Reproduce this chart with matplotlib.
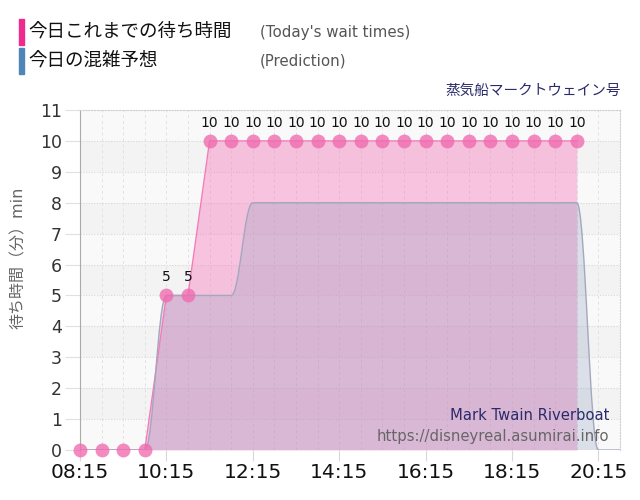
import matplotlib
matplotlib.use("Agg")
import matplotlib.pyplot as plt
from matplotlib.path import Path
from matplotlib.patches import PathPatch, Rectangle
import numpy as np

plt.rcParams['font.family'] = ['DejaVu Sans', 'Noto Sans CJK JP']

# ---------------- data ----------------
actual_times = ["08:15", "08:45", "09:15", "09:45", "10:15", "10:45", "11:15", "11:45",
                "12:15", "12:45", "13:15", "13:45", "14:15", "14:45", "15:15", "15:45",
                "16:15", "16:45", "17:15", "17:45", "18:15", "18:45", "19:15", "19:45"]
actual_wait = [0, 0, 0, 0, 5, 5, 10, 10,
               10, 10, 10, 10, 10, 10, 10, 10,
               10, 10, 10, 10, 10, 10, 10, 10]

pred_times = ["08:15", "08:45", "09:15", "09:45", "10:15", "10:45", "11:15", "11:45",
              "12:15", "12:45", "13:15", "13:45", "14:15", "14:45", "15:15", "15:45",
              "16:15", "16:45", "17:15", "17:45", "18:15", "18:45", "19:15", "19:45",
              "20:15", "20:45"]
pred_wait = [0, 0, 0, 0, 5, 5, 5, 5,
             8, 8, 8, 8, 8, 8, 8, 8,
             8, 8, 8, 8, 8, 8, 8, 8,
             0, 0]

x_tick_labels = ["08:15", "10:15", "12:15", "14:15", "16:15", "18:15", "20:15"]
y_ticks = list(range(0, 12))

title_jp = "蒸気船マークトウェイン号"
title_en = "Mark Twain Riverboat"
site = "https://disneyreal.asumirai.info"
legend_jp = ["今日これまでの待ち時間", "今日の混雑予想"]
legend_en = ["(Today's wait times)", "(Prediction)"]
ylabel = "待ち時間（分）min"


def to_h(s):
    h, m = s.split(":")
    return int(h) + int(m) / 60.0


ax_x = np.array([to_h(t) for t in actual_times])
ax_y = np.array(actual_wait, dtype=float)
px = np.array([to_h(t) for t in pred_times])
py = np.array(pred_wait, dtype=float)


def spline_path(xs, ys, sm=1.5):
    n = len(xs)
    lc = [None] * n
    rc = [None] * n
    for i in range(n):
        x, y = xs[i], ys[i]
        if 0 < i < n - 1:
            lx, ly = xs[i - 1], ys[i - 1]
            nx, ny = xs[i + 1], ys[i + 1]
            d = sm + 1
            lcx = (sm * x + lx) / d
            lcy = (sm * y + ly) / d
            rcx = (sm * x + nx) / d
            rcy = (sm * y + ny) / d
            if rcx != lcx:
                corr = ((rcy - lcy) * (rcx - x)) / (rcx - lcx) + y - rcy
                lcy += corr
                rcy += corr
            if lcy > ly and lcy > y:
                lcy = max(ly, y); rcy = 2 * y - lcy
            elif lcy < ly and lcy < y:
                lcy = min(ly, y); rcy = 2 * y - lcy
            if rcy > ny and rcy > y:
                rcy = max(ny, y); lcy = 2 * y - rcy
            elif rcy < ny and rcy < y:
                rcy = min(ny, y); lcy = 2 * y - rcy
            lc[i] = (lcx, lcy)
            rc[i] = (rcx, rcy)
        else:
            lc[i] = (x, y)
            rc[i] = (x, y)
    verts = [(xs[0], ys[0])]
    codes = [Path.MOVETO]
    for i in range(1, n):
        verts += [rc[i - 1], lc[i], (xs[i], ys[i])]
        codes += [Path.CURVE4] * 3
    return verts, codes


fig = plt.figure(figsize=(6.4, 5), dpi=100)
ax = fig.add_axes([80 / 640, 50 / 500, 540 / 640, 340 / 500])
ax.set_xlim(to_h("08:15"), to_h("20:45"))
ax.set_ylim(0, 11)
ax.set_facecolor("#f9f9f9")

# alternating bands
for k in range(1, 11, 2):
    ax.axhspan(k, k + 1, color="#f3f3f3", zorder=0, lw=0)

# grid
for yv in y_ticks:
    ax.axhline(yv, color="#d8d8d8", lw=0.8, ls=(0, (1, 1.5)), zorder=0.5)
minor = np.arange(to_h("08:15"), to_h("20:45") + 0.01, 0.5)
for xv in minor:
    ax.axvline(xv, color="#e2e2e2", lw=0.7, ls=(0, (3, 3)), zorder=0.5)

# actual fill + line
ax.fill_between(ax_x, 0, ax_y, color=(0.965, 0.455, 0.72, 0.40), lw=0, zorder=1)
ax.plot(ax_x, ax_y, color="#f57ab9", lw=1, zorder=3)

# prediction spline
verts, codes = spline_path(px, py)
fverts = verts + [(px[-1], 0), (px[0], 0), (px[0], py[0])]
fcodes = codes + [Path.LINETO, Path.LINETO, Path.CLOSEPOLY]
ax.add_patch(PathPatch(Path(fverts, fcodes), facecolor=(0.545, 0.608, 0.745, 0.27),
                       edgecolor="none", zorder=2))
ax.add_patch(PathPatch(Path(verts, codes), facecolor="none", edgecolor="#a4a8be",
                       lw=1, zorder=3))

# markers
ax.plot(ax_x, ax_y, "o", color="#f06aaf", alpha=0.78, ms=10, mec="none",
        zorder=4, clip_on=False)

# data labels (non-zero)
for xv, yv in zip(ax_x, ax_y):
    if yv > 0:
        ax.annotate(f"{int(yv)}", (xv, yv), xytext=(0, 13), textcoords="offset points",
                    ha="center", va="center", fontsize=10, color="#111111", zorder=5)

# axes styling
ax.set_xticks([to_h(t) for t in x_tick_labels])
ax.set_xticklabels(x_tick_labels, fontsize=14.5, color="#111111")
ax.set_yticks(y_ticks)
ax.set_yticklabels([str(v) for v in y_ticks], fontsize=12.5, color="#333333")
ax.tick_params(axis="x", length=8, color="#d8d8d8", pad=1)
ax.tick_params(axis="y", length=11, color="#e0e0e0", pad=2)
ax.spines["left"].set_color("#aaaaaa")
ax.spines["bottom"].set_visible(False)
for s in ("top", "right"):
    ax.spines[s].set_color("#d0d0d0")
    ax.spines[s].set_linestyle((0, (1, 1.5)))
    ax.spines[s].set_linewidth(0.8)

# watermark
fig.text(609 / 640, 1 - 415 / 500, title_en, ha="right", va="center",
         fontsize=10.6, color="#2a2a6a")
fig.text(609 / 640, 1 - 436 / 500, site, ha="right", va="center",
         fontsize=10.7, color="#666666")

# title
fig.text(621 / 640, 1 - 90 / 500, title_jp, ha="right", va="center",
         fontsize=10.5, color="#2a2a6a")

# y label
fig.text(18 / 640, 1 - 258 / 500, ylabel, rotation=90, ha="center", va="center",
         fontsize=11.5, color="#666666")

# legend
leg_colors = ["#ee2a8e", "#4f86b8"]
leg_y = [32, 61]
for c, yc, jp, en in zip(leg_colors, leg_y, legend_jp, legend_en):
    fig.patches.append(Rectangle((19 / 640, 1 - (yc + 13) / 500), 5 / 640, 26 / 500,
                                 transform=fig.transFigure, color=c, zorder=3))
    fig.text(28 / 640, 1 - yc / 500, jp, ha="left", va="center", fontsize=13.3,
             color="#111111")
    fig.text(260 / 640, 1 - yc / 500, en, ha="left", va="center", fontsize=10.8,
             color="#555555")

fig.savefig("out.png", dpi=100)
